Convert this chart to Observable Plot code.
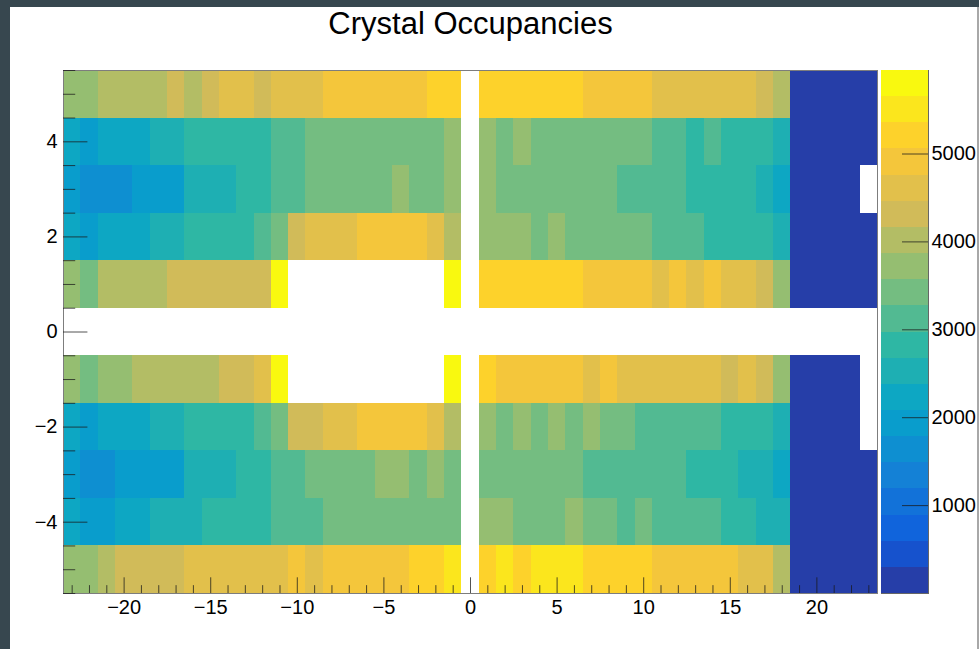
<!DOCTYPE html>
<html>
<head>
<meta charset="utf-8">
<script src="https://cdn.jsdelivr.net/npm/d3@7"></script>
<script src="https://cdn.jsdelivr.net/npm/@observablehq/plot@0.6"></script>
<style>
  html, body { margin: 0; padding: 0; background: #fff; }
  #canvas { position: relative; width: 979px; height: 649px; background: #fff; overflow: hidden; }
  #canvas .edge { position: absolute; background: #37474f; }
  #canvas .rim { position: absolute; background: #a8a8a8; }
  #main, #palette { position: absolute; top: 0; }
  #main { left: 0; }
  #palette { left: 881px; }
</style>
</head>
<body>
<div id="canvas">
  <div id="main"></div>
  <div id="palette"></div>
  <div class="edge" style="left:0;top:0;width:979px;height:7px"></div>
  <div class="edge" style="left:0;top:0;width:10px;height:649px"></div>
  <div class="rim" style="left:977px;top:7px;width:2px;height:642px"></div>
</div>
<script>
// Crystal index along x (bin centres) and ring index along y (bin centres)
const xBins = [-23, -22, -21, -20, -19, -18, -17, -16, -15, -14, -13, -12, -11, -10, -9, -8, -7, -6, -5, -4, -3, -2, -1,
  0, 1, 2, 3, 4, 5, 6, 7, 8, 9, 10, 11, 12, 13, 14, 15, 16, 17, 18, 19, 20, 21, 22, 23];
const yBins = [5, 4, 3, 2, 1, 0, -1, -2, -3, -4, -5];

// Hit counts per crystal, one array per y row (null = no entries)
const rowP5 = [3720, 3720, 4020, 4020, 4020, 4020, 4310, 4020, 4310, 4610, 4610, 4310, 4610, 4610, 4610, 4910, 4910, 4910, 4910, 4910, 4910, 5210, 5210,
  null, 5210, 5210, 5210, 5210, 5210, 5210, 4910, 4910, 4910, 4910, 4610, 4610, 4610, 4610, 4610, 4610, 4310, 4020, 150, 150, 150, 150, 150];
const rowP4 = [2230, 1930, 2230, 2230, 2230, 2530, 2530, 2830, 2830, 2830, 2830, 2830, 3120, 3120, 3420, 3420, 3420, 3420, 3420, 3420, 3420, 3420, 3720,
  null, 3720, 3420, 3720, 3420, 3420, 3420, 3420, 3420, 3420, 3420, 3120, 3120, 2830, 3120, 2830, 2830, 2830, 2530, 150, 150, 150, 150, 150];
const rowP3 = [1930, 1640, 1640, 1640, 1930, 1930, 1930, 2530, 2530, 2530, 2830, 2830, 3120, 3120, 3420, 3420, 3420, 3420, 3420, 3720, 3420, 3420, 3720,
  null, 3720, 3420, 3420, 3420, 3420, 3420, 3420, 3420, 3120, 3120, 3120, 3120, 2830, 2830, 2830, 2830, 2530, 2230, 150, 150, 150, 150, null];
const rowP2 = [2230, 1930, 2230, 2230, 2230, 2530, 2530, 2830, 2830, 2830, 2830, 3120, 3420, 4310, 4610, 4610, 4610, 4910, 4910, 4910, 4910, 4610, 4020,
  null, 3720, 3720, 3720, 3420, 3720, 3420, 3420, 3420, 3420, 3420, 3120, 3120, 3120, 2830, 2830, 2830, 2830, 2530, 150, 150, 150, 150, 150];
const rowP1 = [3720, 3420, 4020, 4020, 4020, 4020, 4310, 4310, 4310, 4310, 4310, 4310, 5950, null, null, null, null, null, null, null, null, null, 5870,
  null, 5210, 5210, 5210, 5210, 5210, 5210, 4910, 4910, 4910, 4910, 4610, 4910, 4610, 4910, 4610, 4610, 4310, 3720, 150, 150, 150, 150, 150];
const row0 = [null, null, null, null, null, null, null, null, null, null, null, null, null, null, null, null, null, null, null, null, null, null, null,
  null, null, null, null, null, null, null, null, null, null, null, null, null, null, null, null, null, null, null, null, null, null, null, null];
const rowM1 = [3720, 3420, 3720, 3720, 4020, 4020, 4020, 4020, 4020, 4310, 4310, 4610, 5860, null, null, null, null, null, null, null, null, null, 5890,
  null, 5210, 4910, 4910, 4910, 4910, 4910, 4610, 4910, 4610, 4610, 4610, 4610, 4610, 4610, 4310, 4610, 4310, 3720, 150, 150, 150, 150, null];
const rowM2 = [2230, 1930, 2230, 2230, 2230, 2530, 2530, 2830, 2830, 2830, 2830, 3120, 3420, 4310, 4310, 4610, 4610, 4910, 4910, 4910, 4910, 4610, 4020,
  null, 3720, 3420, 3720, 3420, 3720, 3420, 3720, 3420, 3420, 3120, 3120, 3120, 3120, 3120, 2830, 2830, 2830, 2530, 150, 150, 150, 150, null];
const rowM3 = [1930, 1640, 1640, 1930, 1930, 1930, 1930, 2530, 2530, 2530, 2830, 2830, 3120, 3120, 3420, 3420, 3420, 3420, 3720, 3720, 3420, 3720, 3420,
  null, 3420, 3420, 3420, 3420, 3420, 3420, 3120, 3120, 3120, 3120, 3120, 3120, 2830, 2830, 2830, 2530, 2530, 2230, 150, 150, 150, 150, 150];
const rowM4 = [2230, 1930, 1930, 2230, 2230, 2530, 2530, 2530, 2830, 2830, 2830, 2830, 3120, 3120, 3120, 3420, 3420, 3420, 3420, 3420, 3420, 3420, 3420,
  null, 3720, 3720, 3420, 3420, 3420, 3720, 3420, 3420, 3120, 3420, 3120, 3120, 3120, 3120, 2830, 2830, 2530, 2530, 150, 150, 150, 150, 150];
const rowM5 = [3720, 3720, 4020, 4310, 4310, 4310, 4310, 4610, 4610, 4610, 4610, 4610, 4610, 4910, 4610, 4910, 4910, 4910, 4910, 4910, 5210, 5210, 5500,
  null, 5210, 5500, 5210, 5500, 5500, 5500, 5210, 5210, 5210, 5210, 4910, 4910, 4910, 4910, 4910, 4610, 4610, 4020, 150, 150, 150, 150, 150];
const rows = [rowP5, rowP4, rowP3, rowP2, rowP1, row0, rowM1, rowM2, rowM3, rowM4, rowM5];

// Axis ticks
const xMajorTicks = [-20, -15, -10, -5, 0, 5, 10, 15, 20];
const xMinorTicks = xBins.filter(x => !xMajorTicks.includes(x));
const yMajorTicks = [-4, -2, 0, 2, 4];
const yMinorTicks = [-5.5, -5, -4.5, -3.5, -3, -2.5, -1.5, -1, -0.5, 0.5, 1, 1.5, 2.5, 3, 3.5, 4.5, 5, 5.5];
const zTicks = [1000, 2000, 3000, 4000, 5000];

// Flatten into one record per filled crystal
const cells = [];
rows.forEach((row, r) => row.forEach((count, i) => {
  if (count != null) cells.push({x: xBins[i], y: yBins[r], count});
}));

// ROOT "bird" palette: 255-colour gradient table, sampled at 20 contour levels
const birdStops = [0.0, 0.125, 0.25, 0.375, 0.5, 0.625, 0.75, 0.875, 1.0];
const birdRed   = [0.2082, 0.0592, 0.0780, 0.0232, 0.1802, 0.5301, 0.8186, 0.9956, 0.9764];
const birdGreen = [0.1664, 0.3599, 0.5041, 0.6419, 0.7178, 0.7492, 0.7328, 0.7862, 0.9832];
const birdBlue  = [0.5293, 0.8684, 0.8385, 0.7914, 0.6425, 0.4662, 0.3499, 0.1968, 0.0539];
function gradientTable(n) {
  const table = [];
  for (let g = 1; g < birdStops.length; g++) {
    const m = Math.floor(n * birdStops[g]) - Math.floor(n * birdStops[g - 1]);
    for (let c = 0; c < m; c++) {
      const f = c / m;
      const mix = a => 255 * (a[g - 1] + (a[g] - a[g - 1]) * f);
      table.push(d3.rgb(mix(birdRed), mix(birdGreen), mix(birdBlue)).formatHex());
    }
  }
  return table;
}
const nLevels = 20;
const table = gradientTable(255);
const levelColors = d3.range(nLevels).map(i => table[Math.floor((i + 0.99) * table.length / nLevels)]);
const zMin = 0;
const zMax = d3.max(cells, d => d.count);
const thresholds = d3.range(1, nLevels).map(k => zMin + k * (zMax - zMin) / nLevels);
const bands = d3.range(nLevels).map(k => ({lo: zMin + k * (zMax - zMin) / nLevels, hi: zMin + (k + 1) * (zMax - zMin) / nLevels}));

const colorScale = {type: "threshold", domain: thresholds, range: levelColors};
const font = "'Liberation Sans', Arial, Helvetica, sans-serif";

const W = 880, H = 649, mL = 63, mR = 3, mT = 70, mB = 56;
const frameW = W - mL - mR, frameH = H - mT - mB;
const tickInk = {stroke: "#1a1a1a", strokeOpacity: 0.75};

const main = Plot.plot({
  width: W, height: H,
  marginLeft: mL, marginRight: mR, marginTop: mT, marginBottom: mB,
  x: {domain: [-23.5, 23.5]},
  y: {domain: [-5.5, 5.5]},
  color: colorScale,
  style: {fontFamily: font, fontSize: "20px", color: "#000", background: "transparent", overflow: "visible"},
  marks: [
    Plot.rect(cells, {
      x1: d => d.x - 0.5, x2: d => d.x + 0.5,
      y1: d => d.y - 0.5, y2: d => d.y + 0.5,
      fill: "count", shapeRendering: "crispEdges"
    }),
    Plot.frame({stroke: "#7d7d7d"}),
    Plot.tickX(xMinorTicks, {x: d => d, insetTop: frameH - 0.015 * frameH, ...tickInk}),
    Plot.tickX(xMajorTicks, {x: d => d, insetTop: frameH - 0.03 * frameH, ...tickInk}),
    Plot.tickY(yMinorTicks, {y: d => d, insetRight: frameW - 0.015 * frameW, ...tickInk}),
    Plot.tickY(yMajorTicks, {y: d => d, insetRight: frameW - 0.03 * frameW, ...tickInk}),
    Plot.axisX(xMajorTicks, {tickSize: 0, tickPadding: 6, fontSize: 20, label: null}),
    Plot.axisY(yMajorTicks, {tickSize: 0, tickPadding: 6, fontSize: 20, label: null}),
    Plot.text(["Crystal Occupancies"], {frameAnchor: "top", lineAnchor: "middle", dy: -46, fontSize: 31, fill: "#000"})
  ]
});
document.getElementById("main").appendChild(main);

// Colour palette axis on the right
const barW = 47;
const palette = Plot.plot({
  width: 98, height: H,
  marginLeft: 0, marginRight: 98 - barW, marginTop: mT, marginBottom: mB,
  y: {domain: [zMin, zMax]},
  color: colorScale,
  style: {fontFamily: font, fontSize: "20px", color: "#000", background: "transparent", overflow: "visible"},
  marks: [
    Plot.rect(bands, {y1: "lo", y2: "hi", fill: d => (d.lo + d.hi) / 2, shapeRendering: "crispEdges"}),
    Plot.frame({anchor: "right", stroke: "#666"}),
    Plot.frame({anchor: "bottom", stroke: "#666"}),
    Plot.tickY(zTicks, {y: d => d, insetLeft: barW - 26, ...tickInk}),
    Plot.axisY(zTicks, {anchor: "right", tickSize: 0, tickPadding: 3, fontSize: 20, tickFormat: d => String(d), label: null})
  ]
});
document.getElementById("palette").appendChild(palette);
</script>
</body>
</html>
